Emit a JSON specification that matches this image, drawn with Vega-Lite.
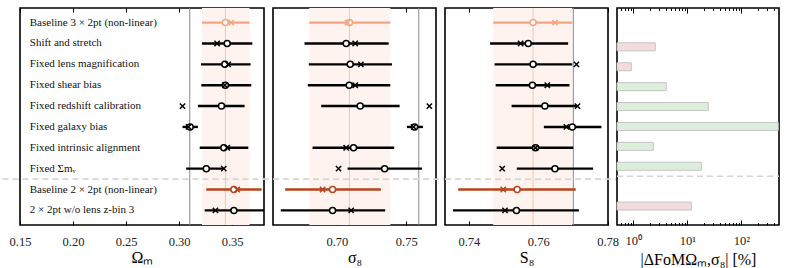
{
  "$schema": "https://vega.github.io/schema/vega-lite/v6.json",
  "padding": {"left": 0, "top": 6, "right": 0, "bottom": 0},
  "background": "white",
  "bounds": "flush",
  "spacing": 9,
  "data": {"values": [
    {"row":0,"label":"Baseline 3 × 2pt (non-linear)","grp":"b3","om_lo":0.3215,"om":0.3436,"om_x":0.3491,"om_hi":0.3664,"s8_lo":0.6801,"s8":0.7091,"s8_x":0.7077,"s8_hi":0.7385,"S8_lo":0.747,"S8":0.7585,"S8_x":0.7648,"S8_hi":0.7698,"fom":null,"sign":null},
    {"row":1,"label":"Shift and stretch","grp":"other","om_lo":0.3215,"om":0.3453,"om_x":0.3358,"om_hi":0.369,"s8_lo":0.6767,"s8":0.7067,"s8_x":0.7132,"s8_hi":0.7373,"S8_lo":0.7461,"S8":0.7571,"S8_x":0.7549,"S8_hi":0.7686,"fom":2.56,"sign":"neg"},
    {"row":2,"label":"Fixed lens magnification","grp":"other","om_lo":0.3206,"om":0.3431,"om_x":0.3462,"om_hi":0.3674,"s8_lo":0.6798,"s8":0.7096,"s8_x":0.7173,"s8_hi":0.7397,"S8_lo":0.7474,"S8":0.7585,"S8_x":0.771,"S8_hi":0.7698,"fom":0.92,"sign":"neg"},
    {"row":3,"label":"Fixed shear bias","grp":"other","om_lo":0.3209,"om":0.3436,"om_x":0.3431,"om_hi":0.368,"s8_lo":0.6791,"s8":0.7089,"s8_x":0.7132,"s8_hi":0.7385,"S8_lo":0.7477,"S8":0.7583,"S8_x":0.7626,"S8_hi":0.769,"fom":4.08,"sign":"pos"},
    {"row":4,"label":"Fixed redshift calibration","grp":"other","om_lo":0.3177,"om":0.3399,"om_x":0.3032,"om_hi":0.3617,"s8_lo":0.6887,"s8":0.7168,"s8_x":0.7666,"s8_hi":0.7452,"S8_lo":0.7523,"S8":0.7619,"S8_x":0.7713,"S8_hi":0.7711,"fom":24.5,"sign":"pos"},
    {"row":5,"label":"Fixed galaxy bias","grp":"other","om_lo":0.3032,"om":0.3104,"om_x":0.3089,"om_hi":0.3177,"s8_lo":0.7505,"s8":0.756,"s8_x":0.7553,"s8_hi":0.762,"S8_lo":0.7616,"S8":0.7698,"S8_x":0.7681,"S8_hi":0.7782,"fom":484,"sign":"pos"},
    {"row":6,"label":"Fixed intrinsic alignment","grp":"other","om_lo":0.3194,"om":0.3421,"om_x":0.3453,"om_hi":0.3652,"s8_lo":0.6825,"s8":0.712,"s8_x":0.7067,"s8_hi":0.7413,"S8_lo":0.748,"S8":0.7592,"S8_x":0.7592,"S8_hi":0.7701,"fom":2.35,"sign":"pos"},
    {"row":7,"label":"Fixed Σmᵥ","grp":"other","om_lo":0.3066,"om":0.3256,"om_x":0.3421,"om_hi":0.3421,"s8_lo":0.7077,"s8":0.7344,"s8_x":0.7012,"s8_hi":0.7613,"S8_lo":0.7538,"S8":0.7648,"S8_x":0.7496,"S8_hi":0.7758,"fom":18.2,"sign":"pos"},
    {"row":8,"label":"Baseline 2 × 2pt (non-linear)","grp":"b2","om_lo":0.3256,"om":0.3516,"om_x":0.3547,"om_hi":0.3778,"s8_lo":0.6628,"s8":0.6969,"s8_x":0.6897,"s8_hi":0.7317,"S8_lo":0.7369,"S8":0.7539,"S8_x":0.7499,"S8_hi":0.7708,"fom":null,"sign":null},
    {"row":9,"label":"2 × 2pt w/o lens z-bin 3","grp":"other","om_lo":0.3241,"om":0.3516,"om_x":0.3342,"om_hi":0.386,"s8_lo":0.6596,"s8":0.6969,"s8_x":0.7103,"s8_hi":0.7348,"S8_lo":0.7354,"S8":0.7537,"S8_x":0.7504,"S8_hi":0.7717,"fom":11.9,"sign":"neg"}
  ]},
  "hconcat": [
    {
      "width": 244, "height": 217,
      "resolve": {"axis": {"x": "independent"}},
      "layer": [
        {"transform":[{"filter":"datum.row == 0"}],"mark":{"type":"rect","color":"#fef3ef"},
         "encoding":{"x":{"field":"om_lo","type":"quantitative","scale":{"domain":[0.15,0.38],"nice":false,"zero":false},"axis":{"orient":"bottom","values":[0.15,0.2,0.25,0.3,0.35],"format":".2f","title":"Ωₘ"}},"x2":{"field":"om_hi"}}},
        {"data":{"values":[{}]},"mark":{"type":"rule","color":"#8a8a8a","strokeWidth":1},
         "encoding":{"x":{"datum":0.31,"type":"quantitative","axis":{"orient":"top","values":[0.15,0.2,0.25,0.3,0.35],"labels":false,"title":null}}}},
        {"transform":[{"filter":"datum.row == 0"}],"mark":{"type":"rule","color":"#f9c4ab","strokeWidth":1},
         "encoding":{"x":{"field":"om","type":"quantitative","axis":null}}},
        {"data":{"values":[{}]},"mark":{"type":"rule","color":"#d6d6d6","strokeDash":[6,4],"strokeWidth":1.6,"clip":false},
         "encoding":{"x":{"datum":0.1335,"type":"quantitative","axis":null},"x2":{"datum":0.3885},"y":{"datum":7.5,"type":"quantitative","scale":{"domain":[-0.7,9.7],"reverse":true,"nice":false,"zero":false},"axis":null}}},
        {"mark":{"type":"rule","strokeWidth":2.4,"clip":true},
         "encoding":{"x":{"field":"om_lo","type":"quantitative","axis":null},"x2":{"field":"om_hi"},"y":{"field":"row","type":"quantitative","axis":null},"color":{"field":"grp","type":"nominal","scale":{"domain":["b3","b2","other"],"range":["#f4a582","#b4441a","#000000"]},"legend":null}}},
        {"mark":{"type":"point","shape":"circle","fill":"white","fillOpacity":1,"opacity":1,"size":36,"strokeWidth":1.5},
         "encoding":{"x":{"field":"om","type":"quantitative","axis":null},"y":{"field":"row","type":"quantitative","axis":null},"stroke":{"field":"grp","type":"nominal","scale":{"domain":["b3","b2","other"],"range":["#f4a582","#b4441a","#000000"]},"legend":null}}},
        {"mark":{"type":"point","shape":"M-1,-1L1,1M1,-1L-1,1","filled":false,"opacity":1,"size":28,"strokeWidth":1.5},
         "encoding":{"x":{"field":"om_x","type":"quantitative","axis":null},"y":{"field":"row","type":"quantitative","axis":null},"stroke":{"field":"grp","type":"nominal","scale":{"domain":["b3","b2","other"],"range":["#f4a582","#b4441a","#000000"]},"legend":null}}},
        {"mark":{"type":"text","align":"left","baseline":"middle","font":"Liberation Serif","fontSize":11,"color":"#111"},
         "encoding":{"x":{"datum":0.1592,"type":"quantitative","axis":null},"y":{"field":"row","type":"quantitative","axis":null},"text":{"field":"label"}}}
      ]
    },
    {
      "width": 163, "height": 217,
      "resolve": {"axis": {"x": "independent"}},
      "layer": [
        {"transform":[{"filter":"datum.row == 0"}],"mark":{"type":"rect","color":"#fef3ef"},
         "encoding":{"x":{"field":"s8_lo","type":"quantitative","scale":{"domain":[0.654,0.7714],"nice":false,"zero":false},"axis":{"orient":"bottom","values":[0.70,0.75],"format":".2f","title":"σ₈"}},"x2":{"field":"s8_hi"}}},
        {"data":{"values":[{}]},"mark":{"type":"rule","color":"#8a8a8a","strokeWidth":1},
         "encoding":{"x":{"datum":0.759,"type":"quantitative","axis":{"orient":"top","values":[0.70,0.75],"labels":false,"title":null}}}},
        {"transform":[{"filter":"datum.row == 0"}],"mark":{"type":"rule","color":"#f9c4ab","strokeWidth":1},
         "encoding":{"x":{"field":"s8","type":"quantitative","axis":null}}},
        {"data":{"values":[{}]},"mark":{"type":"rule","color":"#d6d6d6","strokeDash":[6,4],"strokeWidth":1.6,"clip":false},
         "encoding":{"x":{"datum":0.654,"type":"quantitative","axis":null},"x2":{"datum":0.7779},"y":{"datum":7.5,"type":"quantitative","scale":{"domain":[-0.7,9.7],"reverse":true,"nice":false,"zero":false},"axis":null}}},
        {"mark":{"type":"rule","strokeWidth":2.4,"clip":true},
         "encoding":{"x":{"field":"s8_lo","type":"quantitative","axis":null},"x2":{"field":"s8_hi"},"y":{"field":"row","type":"quantitative","axis":null},"color":{"field":"grp","type":"nominal","scale":{"domain":["b3","b2","other"],"range":["#f4a582","#b4441a","#000000"]},"legend":null}}},
        {"mark":{"type":"point","shape":"circle","fill":"white","fillOpacity":1,"opacity":1,"size":36,"strokeWidth":1.5},
         "encoding":{"x":{"field":"s8","type":"quantitative","axis":null},"y":{"field":"row","type":"quantitative","axis":null},"stroke":{"field":"grp","type":"nominal","scale":{"domain":["b3","b2","other"],"range":["#f4a582","#b4441a","#000000"]},"legend":null}}},
        {"mark":{"type":"point","shape":"M-1,-1L1,1M1,-1L-1,1","filled":false,"opacity":1,"size":28,"strokeWidth":1.5,"clip":true},
         "encoding":{"x":{"field":"s8_x","type":"quantitative","axis":null},"y":{"field":"row","type":"quantitative","axis":null},"stroke":{"field":"grp","type":"nominal","scale":{"domain":["b3","b2","other"],"range":["#f4a582","#b4441a","#000000"]},"legend":null}}}
      ]
    },
    {
      "width": 163, "height": 217,
      "resolve": {"axis": {"x": "independent"}},
      "layer": [
        {"transform":[{"filter":"datum.row == 0"}],"mark":{"type":"rect","color":"#fef3ef"},
         "encoding":{"x":{"field":"S8_lo","type":"quantitative","scale":{"domain":[0.7331,0.7801],"nice":false,"zero":false},"axis":{"orient":"bottom","values":[0.74,0.76,0.78],"format":".2f","title":"S₈"}},"x2":{"field":"S8_hi"}}},
        {"data":{"values":[{}]},"mark":{"type":"rule","color":"#8a8a8a","strokeWidth":1},
         "encoding":{"x":{"datum":0.7701,"type":"quantitative","axis":{"orient":"top","values":[0.74,0.76,0.78],"labels":false,"title":null}}}},
        {"transform":[{"filter":"datum.row == 0"}],"mark":{"type":"rule","color":"#f9c4ab","strokeWidth":1},
         "encoding":{"x":{"field":"S8","type":"quantitative","axis":null}}},
        {"data":{"values":[{}]},"mark":{"type":"rule","color":"#d6d6d6","strokeDash":[6,4],"strokeWidth":1.6,"clip":false},
         "encoding":{"x":{"datum":0.7331,"type":"quantitative","axis":null},"x2":{"datum":0.7828},"y":{"datum":7.5,"type":"quantitative","scale":{"domain":[-0.7,9.7],"reverse":true,"nice":false,"zero":false},"axis":null}}},
        {"mark":{"type":"rule","strokeWidth":2.4,"clip":true},
         "encoding":{"x":{"field":"S8_lo","type":"quantitative","axis":null},"x2":{"field":"S8_hi"},"y":{"field":"row","type":"quantitative","axis":null},"color":{"field":"grp","type":"nominal","scale":{"domain":["b3","b2","other"],"range":["#f4a582","#b4441a","#000000"]},"legend":null}}},
        {"mark":{"type":"point","shape":"circle","fill":"white","fillOpacity":1,"opacity":1,"size":36,"strokeWidth":1.5},
         "encoding":{"x":{"field":"S8","type":"quantitative","axis":null},"y":{"field":"row","type":"quantitative","axis":null},"stroke":{"field":"grp","type":"nominal","scale":{"domain":["b3","b2","other"],"range":["#f4a582","#b4441a","#000000"]},"legend":null}}},
        {"mark":{"type":"point","shape":"M-1,-1L1,1M1,-1L-1,1","filled":false,"opacity":1,"size":28,"strokeWidth":1.5},
         "encoding":{"x":{"field":"S8_x","type":"quantitative","axis":null},"y":{"field":"row","type":"quantitative","axis":null},"stroke":{"field":"grp","type":"nominal","scale":{"domain":["b3","b2","other"],"range":["#f4a582","#b4441a","#000000"]},"legend":null}}}
      ]
    },
    {
      "width": 162, "height": 217,
      "resolve": {"axis": {"x": "independent"}},
      "layer": [
        {"transform":[{"filter":"datum.fom != null"}],"mark":{"type":"bar","size":8,"stroke":"#c4c4c4","strokeWidth":1},
         "encoding":{"x":{"field":"fom","type":"quantitative","scale":{"type":"log","domain":[0.5,500],"nice":false},
           "axis":{"orient":"bottom","values":[0.6,0.7,0.8,0.9,1,2,3,4,5,6,7,8,9,10,20,30,40,50,60,70,80,90,100,200,300,400],
             "labelExpr":"datum.value == 1 ? '10⁰' : datum.value == 10 ? '10¹' : datum.value == 100 ? '10²' : ''",
             "tickSize":{"condition":{"test":"datum.value == 1 || datum.value == 10 || datum.value == 100","value":-5},"value":-2.5},
             "title":"|ΔFoMΩₘ,σ₈| [%]"}},
           "x2":{"datum":0.5},
           "y":{"field":"row","type":"quantitative","scale":{"domain":[-0.7,9.7],"reverse":true,"nice":false,"zero":false},"axis":null},
           "fill":{"field":"sign","type":"nominal","scale":{"domain":["neg","pos"],"range":["#f5dcdc","#dcefdc"]},"legend":null}}},
        {"data":{"values":[{}]},"mark":{"type":"rule","color":"#d6d6d6","strokeDash":[6,4],"strokeWidth":1.6},
         "encoding":{"x":{"datum":0.5,"type":"quantitative","axis":{"orient":"top","values":[0.6,0.7,0.8,0.9,1,2,3,4,5,6,7,8,9,10,20,30,40,50,60,70,80,90,100,200,300,400],"labels":false,"title":null,
             "tickSize":{"condition":{"test":"datum.value == 1 || datum.value == 10 || datum.value == 100","value":-5},"value":-2.5}}},
           "x2":{"datum":500},"y":{"datum":7.5,"type":"quantitative","axis":null}}}
      ]
    }
  ],
  "config": {
    "view": {"stroke": "#000", "strokeWidth": 1.6},
    "font": "Liberation Serif",
    "axis": {"domain": false, "grid": false, "ticks": true, "tickColor": "#000", "tickWidth": 1, "tickSize": -4,
      "labelFont": "Liberation Serif", "labelFontSize": 12.5, "labelColor": "#222", "labelPadding": 14,
      "labelFlush": false, "labelOverlap": false,
      "titleFont": "Liberation Serif", "titleFontSize": 16, "titleFontWeight": "normal", "titleColor": "#000", "titlePadding": 2}
  }
}
